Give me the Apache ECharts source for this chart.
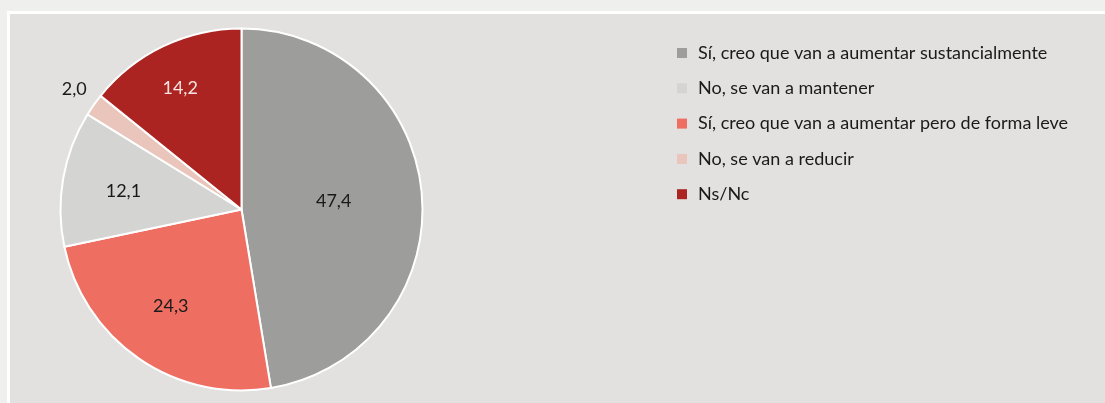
<!DOCTYPE html>
<html>
<head>
<meta charset="utf-8">
<script src="https://cdn.jsdelivr.net/npm/echarts@6/dist/echarts.min.js"></script>
<style>
  html, body { margin: 0; padding: 0; background: #efefed; width: 1105px; height: 403px; overflow: hidden; }
  #frame { position: absolute; left: 7px; top: 11px; width: 1098px; height: 392px; border-left: 3px solid #ffffff; border-top: 3px solid #ffffff; background: #e2e1df; }
  #chart { width: 1095px; height: 389px; }
</style>
</head>
<body>
<div id="frame"><div id="chart"></div></div>
<script>
const categories = [
  'Sí, creo que van a aumentar sustancialmente',
  'No, se van a mantener',
  'Sí, creo que van a aumentar pero de forma leve',
  'No, se van a reducir',
  'Ns/Nc'
];
const values = [47.4, 12.1, 24.3, 2.0, 14.2];
// drawing order (clockwise from 12 o'clock)
const pieOrder = [0, 2, 1, 3, 4];
const colors = ['#9d9d9b', '#d4d4d3', '#ee6e62', '#eac5bb', '#ab2421'];
const labelOffsets = { 0: [-1, -1], 2: [-18, 20], 1: [-26, -2], 3: [-91, -66], 4: [-21, -37] };
const labelColors = { 0: '#1a1a1a', 1: '#1a1a1a', 2: '#1a1a1a', 3: '#1a1a1a', 4: '#f6e3df' };

const chart = echarts.init(document.getElementById('chart'));
const data = pieOrder.map(i => ({
  name: categories[i],
  value: values[i],
  itemStyle: { color: colors[i] },
  label: { offset: labelOffsets[i], color: labelColors[i] }
}));

chart.setOption({
  backgroundColor: '#e2e1df',
  animation: false,
  legend: {
    orient: 'vertical',
    left: 662,
    top: 25,
    data: categories,
    icon: 'rect',
    itemWidth: 10,
    itemHeight: 10,
    itemGap: 17.3,
    itemStyle: { borderWidth: 0 },
    textStyle: { fontFamily: 'Lato', fontSize: 18, color: '#1a1a1a', lineHeight: 18, padding: [0, 0, 0, 6] }
  },
  series: [{
    type: 'pie',
    center: [231.5, 195.5],
    radius: [0, 181],
    startAngle: 90,
    clockwise: true,
    avoidLabelOverlap: false,
    itemStyle: { borderColor: '#ffffff', borderWidth: 2 },
    label: {
      show: true,
      position: 'inside',
      fontFamily: 'Lato',
      fontSize: 18,
      formatter: p => p.value.toFixed(1).replace('.', ',')
    },
    labelLine: { show: false },
    emphasis: { disabled: true },
    data: data
  }]
});
</script>
</body>
</html>
